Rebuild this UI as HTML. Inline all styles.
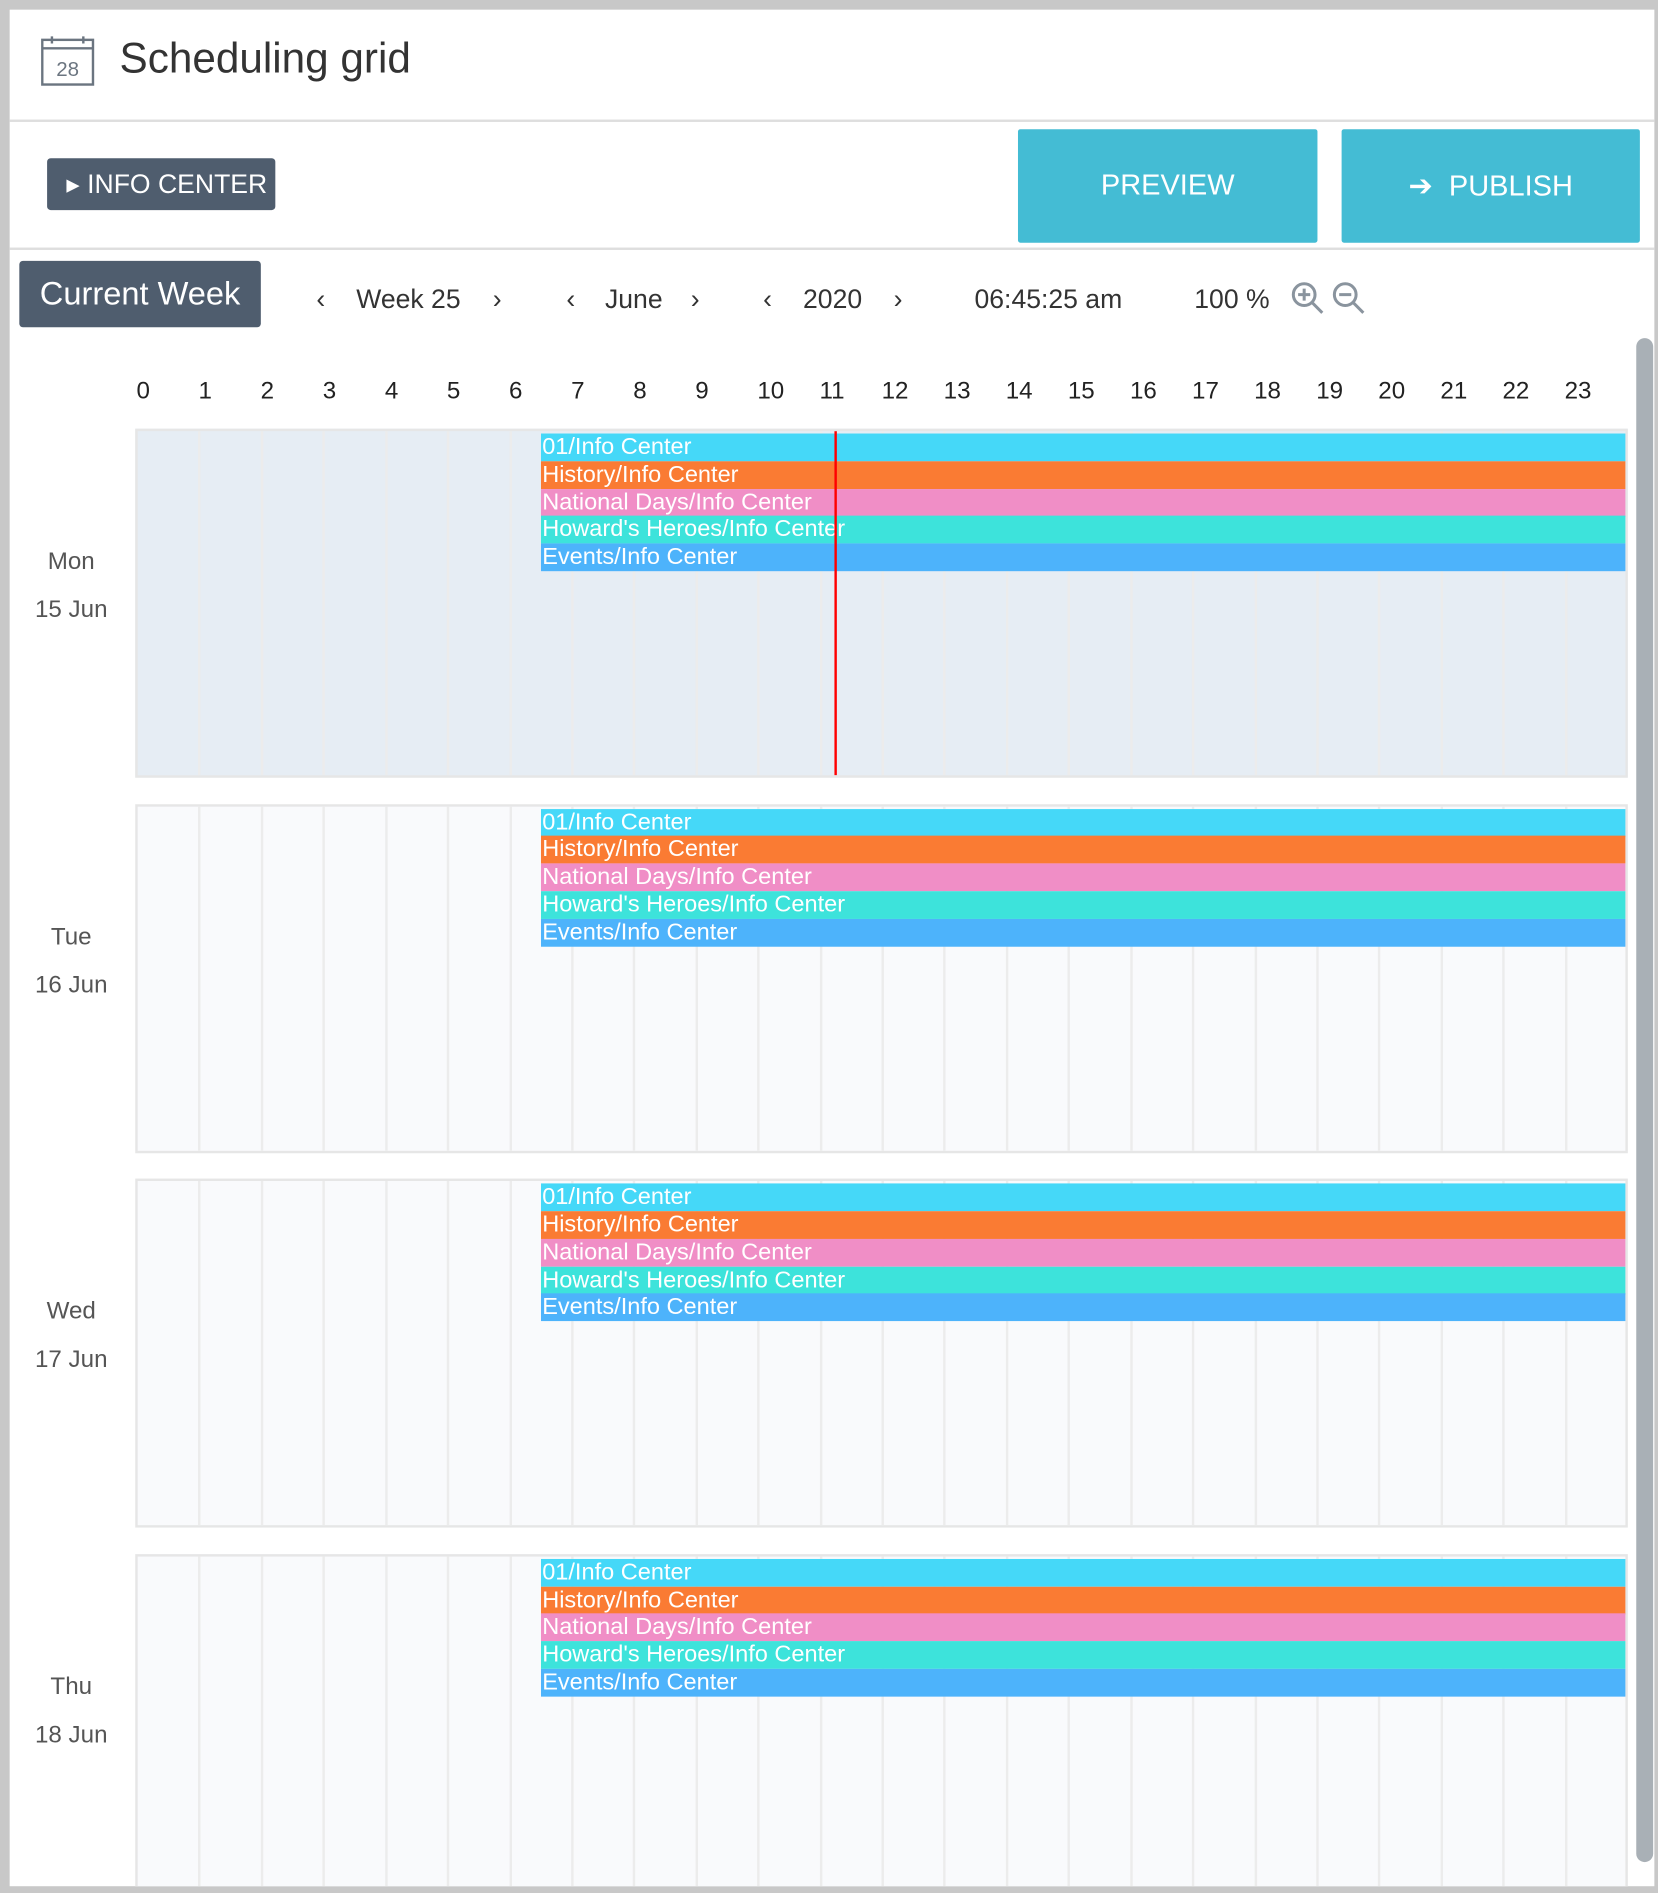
<!DOCTYPE html>
<html><head><meta charset="utf-8"><style>
*{margin:0;padding:0;box-sizing:border-box}
html,body{width:1658px;height:1893px;overflow:hidden;background:#c8c8c8}
#w{position:absolute;left:0;top:0;width:1373px;height:1568px;transform:scale(1.20757);transform-origin:0 0;font-family:"Liberation Sans",sans-serif;color:#333}
.a{position:absolute}
.panel{left:8px;top:8px;width:1362px;height:1554px;background:#fff;overflow:hidden}
.sep{height:2px;background:#dedede;left:8px;width:1362px}
.btn{background:#4f5d6e;color:#fff;border-radius:3px}
.tb{background:#44bcd4;color:#fff;font-size:24px;display:flex;align-items:center;justify-content:center;border-radius:2px}
.nav{font-size:22px;color:#333;top:235px}
.hr{top:313px;font-size:20px;color:#222}
.day{left:104px;width:1236px;height:289px;border:2px solid #e6e6e6;background:#f9fafc;overflow:hidden}
.vl{position:absolute;top:0;bottom:0;width:2px;background:#ececec}
.bar{position:absolute;left:334px;width:900px;height:23px;color:#fff;font-size:19.5px;line-height:23px;white-space:nowrap;padding-left:1px}
.dl{left:18px;width:82px;text-align:center;font-size:20px;color:#555}
</style></head><body><div id="w">
<div class="a panel"><div id="days"></div></div>
<svg class="a" style="left:34px;top:30px" width="46" height="42" viewBox="0 0 46 42"><rect x="1" y="3" width="42" height="37" fill="none" stroke="#6b7580" stroke-width="2"/><line x1="1" y1="10" x2="43" y2="10" stroke="#6b7580" stroke-width="2"/><line x1="9" y1="0" x2="9" y2="6" stroke="#6b7580" stroke-width="2"/><line x1="35" y1="0" x2="35" y2="6" stroke="#6b7580" stroke-width="2"/><text x="22" y="33" font-size="17" text-anchor="middle" fill="#6b7580" font-family="Liberation Sans">28</text></svg>
<div class="a" style="left:99px;top:29px;font-size:35px;color:#333">Scheduling grid</div>
<div class="a sep" style="top:99px"></div>
<div class="a btn" style="left:39px;top:131px;width:189px;height:43px;font-size:22px;line-height:43px;padding-left:16px">&#9656; INFO CENTER</div>
<div class="a tb" style="left:843px;top:107px;width:248px;height:94px">PREVIEW</div>
<div class="a tb" style="left:1111px;top:107px;width:247px;height:94px">&#10132;&nbsp; PUBLISH</div>
<div class="a sep" style="top:205px"></div>
<div class="a btn" style="left:16px;top:216px;width:200px;height:55px;font-size:27px;line-height:55px;text-align:center">Current Week</div>
<div class="a nav" style="left:262px">&#8249;</div><div class="a nav" style="left:295px">Week 25</div><div class="a nav" style="left:408px">&#8250;</div>
<div class="a nav" style="left:469px">&#8249;</div><div class="a nav" style="left:501px">June</div><div class="a nav" style="left:572px">&#8250;</div>
<div class="a nav" style="left:632px">&#8249;</div><div class="a nav" style="left:665px">2020</div><div class="a nav" style="left:740px">&#8250;</div>
<div class="a nav" style="left:807px">06:45:25 am</div>
<div class="a nav" style="left:989px">100 %</div>
<svg class="a" style="left:1068px;top:232px" width="64" height="30" viewBox="0 0 64 30"><g fill="none" stroke="#8a949e" stroke-width="2.5"><circle cx="12" cy="12" r="9"/><line x1="19" y1="19" x2="27" y2="27"/><line x1="7" y1="12" x2="17" y2="12"/><line x1="12" y1="7" x2="12" y2="17"/><circle cx="46" cy="12" r="9"/><line x1="53" y1="19" x2="61" y2="27"/><line x1="41" y1="12" x2="51" y2="12"/></g></svg>
<div id="hrs"></div>
<div id="dl"></div>
<div class="a" style="left:1355px;top:280px;width:14px;height:1262px;background:#a9b0b6;border-radius:7px"></div>
</div>
<script>
var h='',x0=113,cw=51.42;
for(var i=0;i<24;i++){h+='<div class="a hr" style="left:'+(x0+i*cw)+'px">'+i+'</div>';}
document.getElementById('hrs').innerHTML=h;
var names=[['Mon','15 Jun'],['Tue','16 Jun'],['Wed','17 Jun'],['Thu','18 Jun']];
var bars=[['#45d8f8','01/Info Center'],['#fa7b33','History/Info Center'],['#f08ec6','National Days/Info Center'],['#3de3db',"Howard's Heroes/Info Center"],['#4db3fb','Events/Info Center']];
var d='',l='';
for(var k=0;k<4;k++){var t=355+k*310.6;
d+='<div class="a day" style="top:'+(t-8)+'px;'+(k==0?'background:#e6edf4':'')+'">';
for(var i=1;i<24;i++)d+='<div class="vl" style="left:'+(i*cw-1)+'px"></div>';
for(var j=0;j<5;j++)d+='<div class="bar" style="top:'+(2+j*22.8)+'px;background:'+bars[j][0]+'">'+bars[j][1]+'</div>';
if(k==0)d+='<div style="position:absolute;left:577px;top:0;bottom:0;width:2px;background:#f00"></div>';
d+='</div>';
l+='<div class="a dl" style="top:'+(t+99)+'px">'+names[k][0]+'</div><div class="a dl" style="top:'+(t+139)+'px">'+names[k][1]+'</div>';}
document.getElementById('days').innerHTML=d;
document.getElementById('dl').innerHTML=l;
</script>
</body></html>
